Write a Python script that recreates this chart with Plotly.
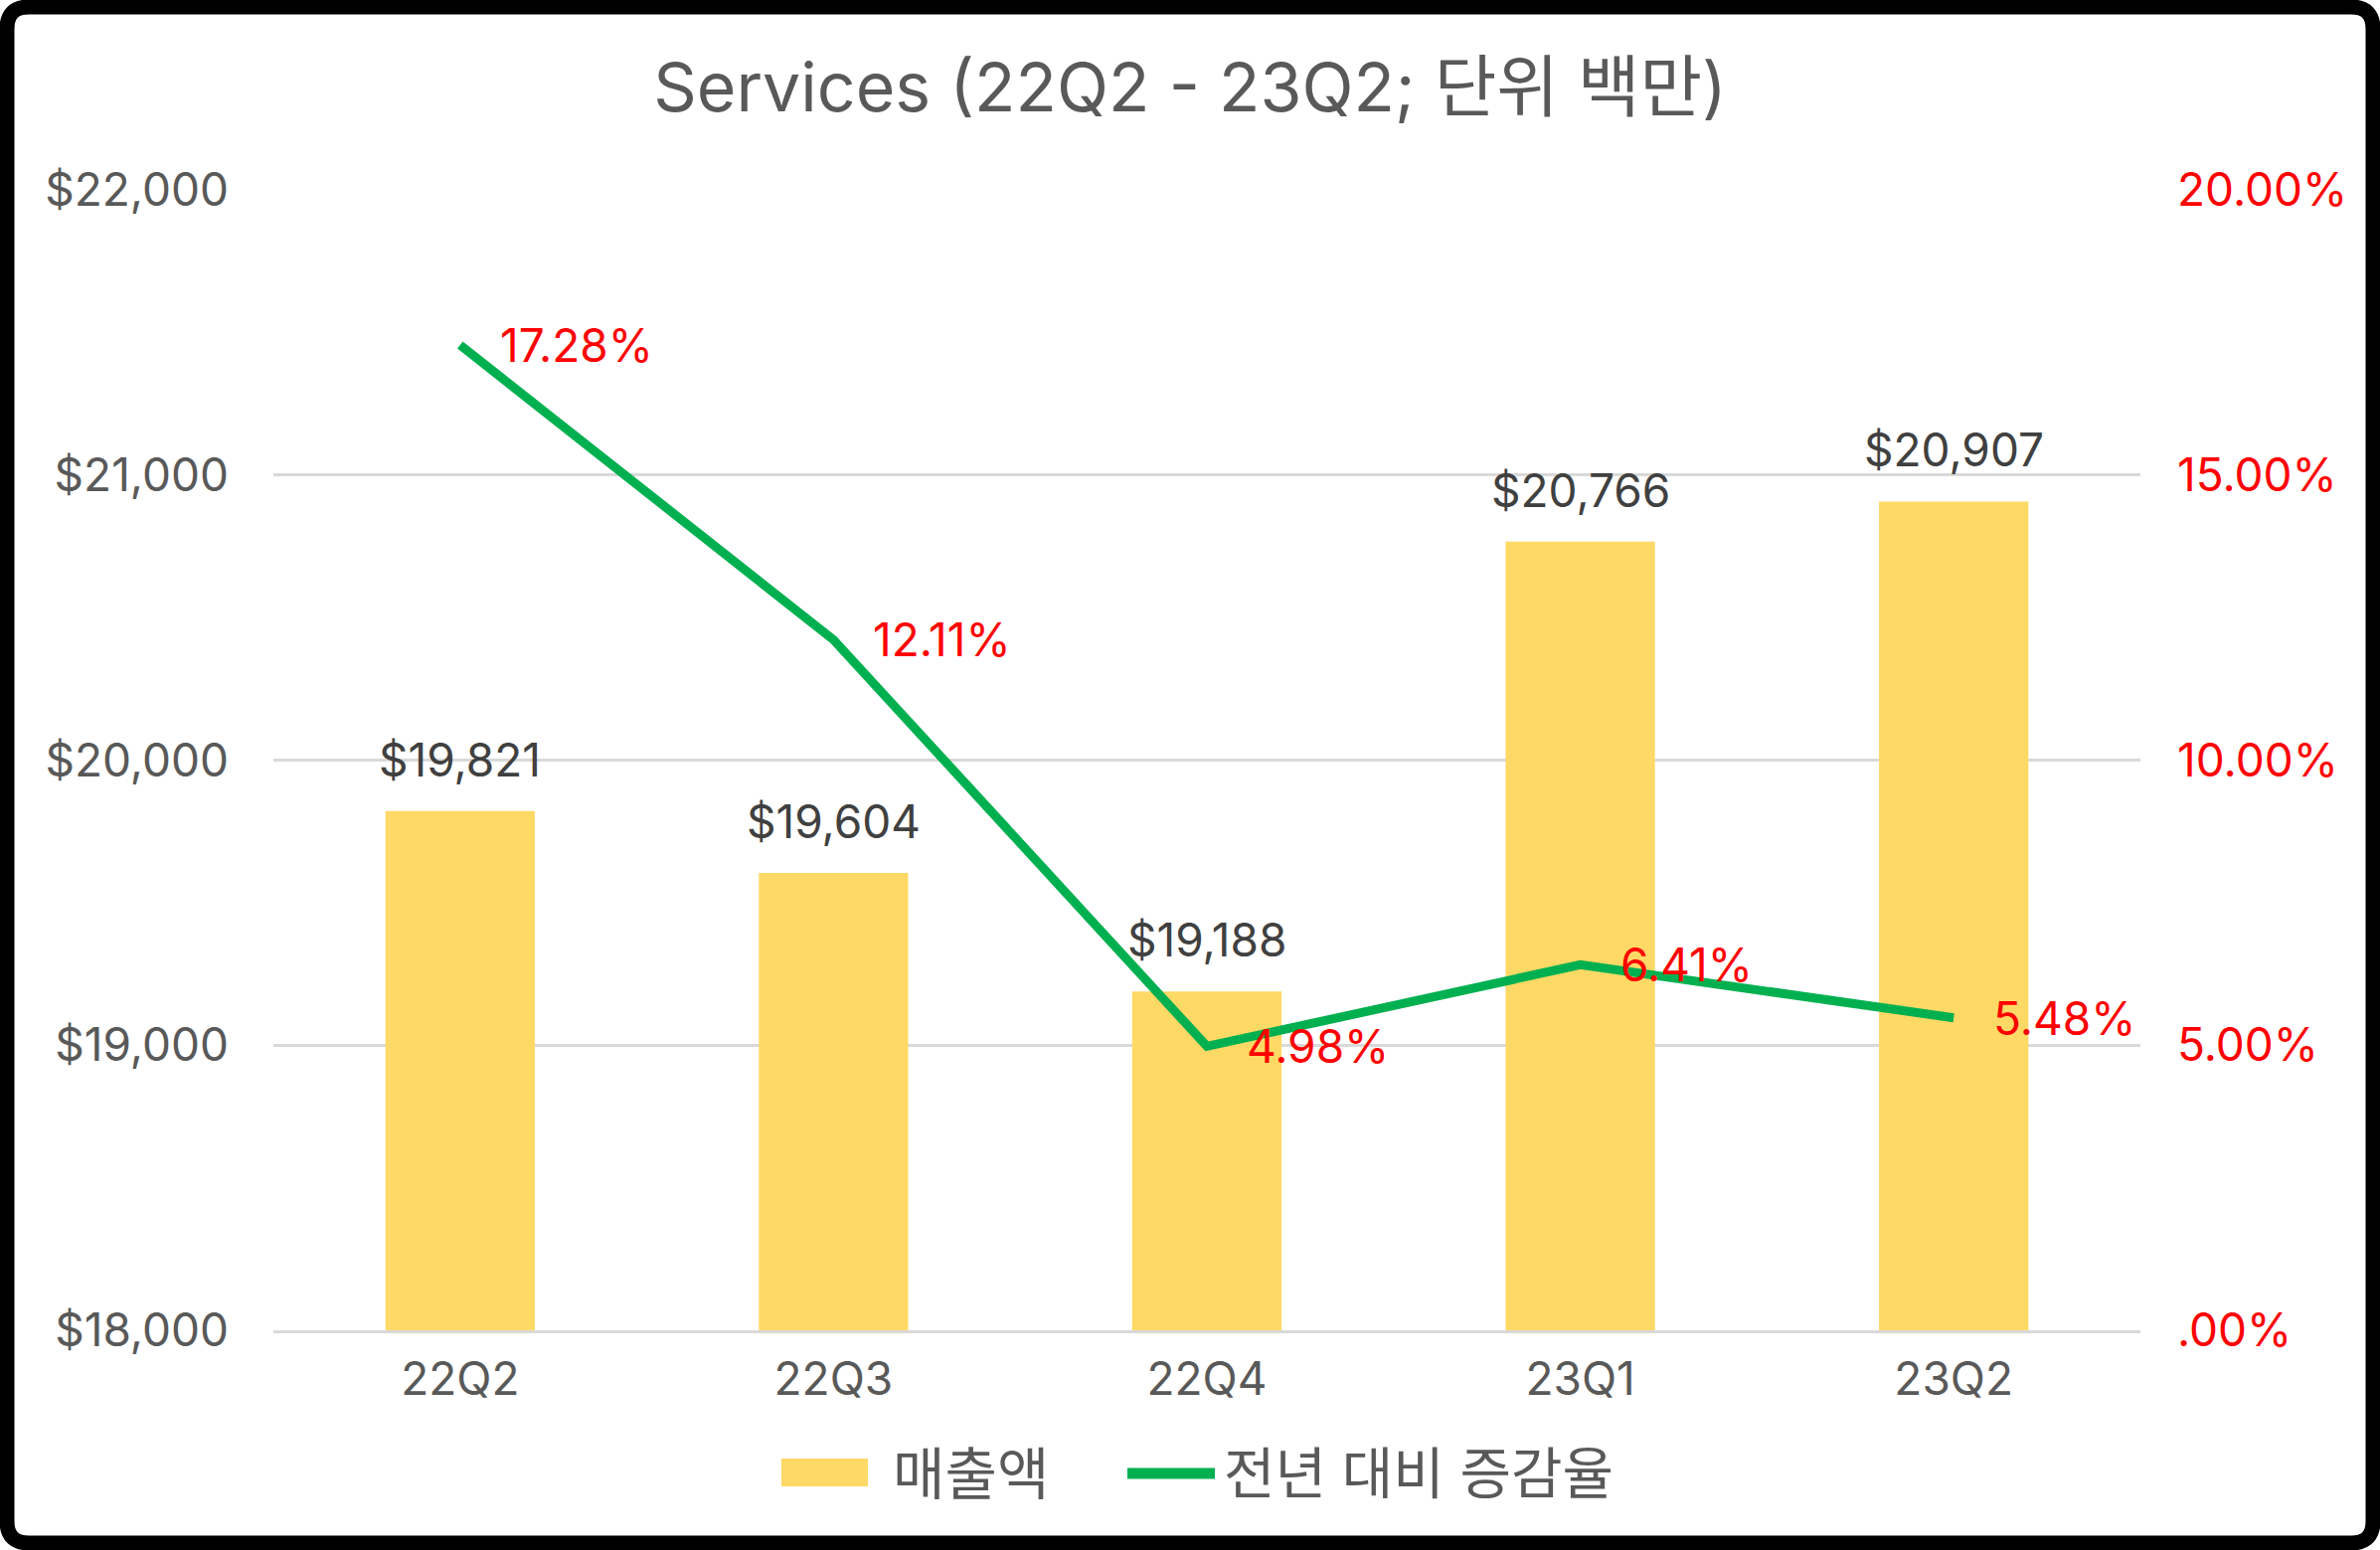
import plotly.graph_objects as go

quarters = ["22Q2", "22Q3", "22Q4", "23Q1", "23Q2"]
revenue = [19821, 19604, 19188, 20766, 20907]
growth = [0.1728, 0.1211, 0.0498, 0.0641, 0.0548]
revenue_labels = ["$19,821", "$19,604", "$19,188", "$20,766", "$20,907"]
growth_labels = ["17.28%", "12.11%", "4.98%", "6.41%", "5.48%"]
left_ticks = [18000, 19000, 20000, 21000, 22000]
left_ticktext = ["$18,000", "$19,000", "$20,000", "$21,000", "$22,000"]
right_ticks = [0, 0.05, 0.10, 0.15, 0.20]
right_ticktext = [".00%", "5.00%", "10.00%", "15.00%", "20.00%"]
title_text = "Services (22Q2 - 23Q2; 단위 백만)"
legend_names = ["매출액", "전년 대비 증감율"]

W, H = 2394, 1559
L, R, T, B = 275, 2153, 191, 1338
PW, PH = R - L, B - T

FONT = "Inter, 'Noto Sans CJK KR', sans-serif"
GRAY = "#595959"
DARK = "#404040"
RED = "#FF0000"
GOLD = "#FFD966"
GREEN = "#00B050"


def px(x):
    return (x - L) / PW


def py(y):
    return (B - y) / PH


fig = go.Figure()
fig.add_trace(go.Bar(
    x=quarters, y=revenue, name=legend_names[0],
    marker=dict(color=GOLD, line=dict(width=0)),
    showlegend=False, hoverinfo="skip",
))
fig.add_trace(go.Scatter(
    x=quarters, y=growth, name=legend_names[1], yaxis="y2",
    mode="lines", line=dict(color=GREEN, width=9),
    showlegend=False, hoverinfo="skip",
))

annotations = []
for q, v, t in zip(quarters, revenue, revenue_labels):
    annotations.append(dict(
        x=q, y=v, xref="x", yref="y", text=t, showarrow=False,
        xanchor="center", yanchor="bottom", yshift=22,
        font=dict(family=FONT, size=46, color=DARK),
    ))
for q, g, t in zip(quarters, growth, growth_labels):
    annotations.append(dict(
        x=q, y=g, xref="x", yref="y2", text=t, showarrow=False,
        xanchor="left", yanchor="middle", xshift=38,
        font=dict(family=FONT, size=46, color=RED),
    ))

# custom legend
annotations.append(dict(
    x=px(896), y=py(1482), xref="paper", yref="paper", text=legend_names[0],
    showarrow=False, xanchor="left", yanchor="middle",
    font=dict(family=FONT, size=57, color=GRAY),
))
annotations.append(dict(
    x=px(1229), y=py(1482), xref="paper", yref="paper", text=legend_names[1],
    showarrow=False, xanchor="left", yanchor="middle",
    font=dict(family=FONT, size=56, color=GRAY),
))

shapes = [
    dict(type="rect", xref="paper", yref="paper",
         x0=px(786), x1=px(873), y0=py(1495), y1=py(1467),
         fillcolor=GOLD, line=dict(width=0)),
    dict(type="line", xref="paper", yref="paper",
         x0=px(1134), x1=px(1222), y0=py(1482), y1=py(1482),
         line=dict(color=GREEN, width=11)),
]

# rounded black frame
r = 22
e = 7
x0, x1, y0, y1 = e, W - e, e, H - e
path = (
    f"M {px(x0 + r)},{py(y0)} L {px(x1 - r)},{py(y0)} "
    f"Q {px(x1)},{py(y0)} {px(x1)},{py(y0 + r)} "
    f"L {px(x1)},{py(y1 - r)} Q {px(x1)},{py(y1)} {px(x1 - r)},{py(y1)} "
    f"L {px(x0 + r)},{py(y1)} Q {px(x0)},{py(y1)} {px(x0)},{py(y1 - r)} "
    f"L {px(x0)},{py(y0 + r)} Q {px(x0)},{py(y0)} {px(x0 + r)},{py(y0)} Z"
)
shapes.append(dict(type="path", xref="paper", yref="paper", path=path,
                   line=dict(color="black", width=15), layer="above"))

fig.update_layout(
    width=W, height=H,
    margin=dict(l=L, r=W - R, t=T, b=H - B, pad=0),
    paper_bgcolor="white", plot_bgcolor="white",
    bargap=0.6,
    showlegend=False,
    title=dict(text=title_text, x=0.5, xref="container", xanchor="center",
               y=1 - 88 / H, yanchor="middle",
               font=dict(family=FONT, size=68, color=GRAY)),
    xaxis=dict(
        type="category", showgrid=False, zeroline=False,
        showline=True, linecolor="#D9D9D9", linewidth=3,
        ticks="", tickfont=dict(family=FONT, size=46, color=GRAY),
        ticklabelstandoff=7,
    ),
    yaxis=dict(
        range=[18000, 22000], tickvals=left_ticks, ticktext=left_ticktext,
        showgrid=True, gridcolor="#D9D9D9", gridwidth=3,
        zeroline=False, showline=False, ticks="",
        tickfont=dict(family=FONT, size=46, color=GRAY),
        ticklabelstandoff=44,
    ),
    yaxis2=dict(
        overlaying="y", side="right", range=[0, 0.2],
        tickvals=right_ticks, ticktext=right_ticktext,
        showgrid=False, zeroline=False, showline=False, ticks="",
        tickfont=dict(family=FONT, size=46, color=RED),
        ticklabelstandoff=36,
    ),
    annotations=annotations,
    shapes=shapes,
)

fig.write_html(
    "out.html",
    config={"displayModeBar": False},
    post_script="document.body.style.margin='0';document.body.style.overflow='hidden';",
)
